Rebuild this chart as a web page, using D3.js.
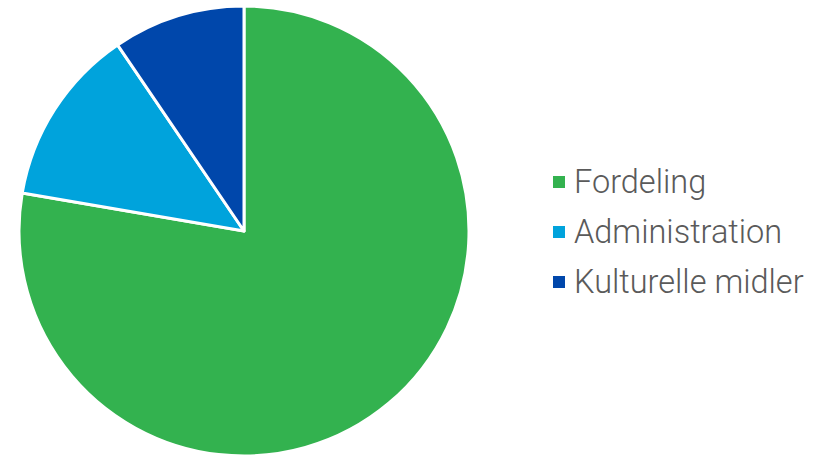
<!DOCTYPE html>
<html>
<head>
<meta charset="utf-8">
<script src="https://cdn.jsdelivr.net/npm/d3@7"></script>
<style>
  body { margin: 0; background: #fff; }
  svg { display: block; font-family: Roboto, sans-serif; }
</style>
</head>
<body>
<div id="chart"></div>
<script>
// Data
const categories = ["Fordeling", "Administration", "Kulturelle midler"];
const shares = [77.7, 12.8, 9.5];
const colors = ["#33b24f", "#00a3dc", "#0047ab"];

const width = 815, height = 456;
const cx = 244, cy = 231, radius = 225;

const svg = d3.select("#chart").append("svg")
    .attr("width", width)
    .attr("height", height);

const pie = d3.pie().sort(null).value(d => d.value);
const arc = d3.arc().innerRadius(0).outerRadius(radius);

const data = categories.map((c, i) => ({name: c, value: shares[i], color: colors[i]}));

// Slices
svg.append("g")
    .attr("transform", `translate(${cx}, ${cy})`)
    .selectAll("path")
    .data(pie(data))
    .enter().append("path")
    .attr("d", arc)
    .attr("fill", d => d.data.color)
    .attr("stroke", "#fff")
    .attr("stroke-width", 3)
    .attr("stroke-linejoin", "round");

// Legend
const legend = svg.append("g")
    .attr("transform", "translate(553, 182)");

const rows = legend.selectAll("g")
    .data(data)
    .enter().append("g")
    .attr("transform", (d, i) => `translate(0, ${i * 50})`);

rows.append("rect")
    .attr("x", 0)
    .attr("y", -6)
    .attr("width", 12)
    .attr("height", 12)
    .attr("fill", d => d.color);

rows.append("text")
    .attr("x", 21)
    .attr("y", 0)
    .attr("dy", "0.35em")
    .attr("fill", "#5a5a5a")
    .attr("font-size", 32.5)
    .attr("font-weight", 300)
    .text(d => d.name);
</script>
</body>
</html>
